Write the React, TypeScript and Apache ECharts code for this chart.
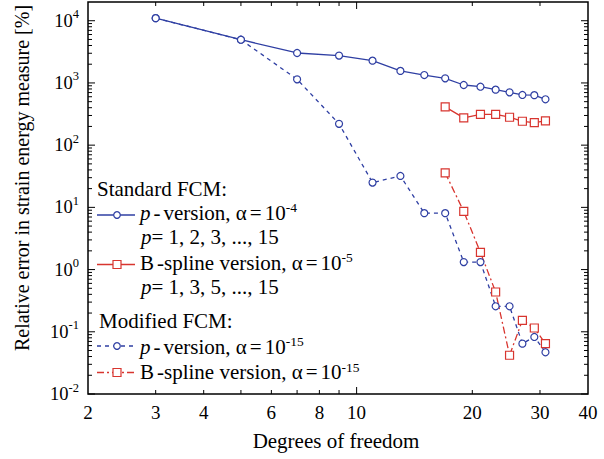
import React, { useEffect, useRef } from 'react';
import * as echarts from 'echarts';

// ---- data ----
const pDof = [3, 5, 7, 9, 11, 13, 15, 17, 19, 21, 23, 25, 27, 29, 31];
const bDof = [17, 19, 21, 23, 25, 27, 29, 31];
const stdP = [11000, 4950, 3030, 2750, 2280, 1560, 1340, 1185, 927, 870, 780, 706, 641, 636, 546];
const stdB = [412, 274, 313, 313, 281, 242, 231, 245];
const modP = [11000, 4950, 1143, 220, 25, 32, 8.07, 8.07, 1.32, 1.32, 0.257, 0.257, 0.0645, 0.0826, 0.0469];
const modB = [35.9, 8.6, 1.89, 0.436, 0.042, 0.153, 0.115, 0.0645];

const xTickLabels = [2, 3, 4, 6, 8, 10, 20, 30, 40];
const xMinorTicks = [3, 4, 5, 6, 7, 8, 9, 20, 30];
const xMajorTicks = [10];
const yDecades = [-2, -1, 0, 1, 2, 3, 4];
const yMinorMult = [2, 3, 4, 5, 6, 7, 8, 9];

const BLUE = '#2f3fa3';
const RED = '#d8352f';
const FONT = 'Liberation Serif, Times New Roman, DejaVu Serif, serif';

export default function App() {
  const ref = useRef<HTMLDivElement>(null);
  useEffect(() => {
    const chart = echarts.init(ref.current!, null, { renderer: 'svg' });
    const zip = (xs: number[], ys: number[]) => xs.map((x, i) => [x, ys[i]]);
    const left = 88, right = 16, top = 2, bottom = 65;
    const W = 604, H = 459;
    const gx0 = left, gx1 = W - right, gy0 = top, gy1 = H - bottom;

    chart.setOption({
      animation: false,
      textStyle: { fontFamily: FONT },
      grid: {
        left, right, top, bottom, show: true,
        borderColor: '#000', borderWidth: 1.5, backgroundColor: 'transparent',
      },
      xAxis: {
        type: 'log', min: 2, max: 40, logBase: 10,
        axisLine: { show: false }, axisTick: { show: false },
        axisLabel: { show: false }, splitLine: { show: false },
      },
      yAxis: {
        type: 'log', min: 0.01, max: 20000, logBase: 10,
        axisLine: { show: false }, axisTick: { show: false }, splitLine: { show: false },
        axisLabel: {
          margin: 9,
          showMinLabel: true,
          fontFamily: FONT,
          formatter: (v: number) => {
            const l = Math.log10(v);
            const e = Math.round(l);
            if (Math.abs(l - e) > 1e-6) return '';
            return `{b|10}{s|${e}}`;
          },
          rich: {
            b: { fontFamily: FONT, fontSize: 18.5, color: '#000', lineHeight: 26 },
            s: { fontFamily: FONT, fontSize: 12.5, color: '#000', lineHeight: 12, verticalAlign: 'top' },
          },
        },
      },
      series: [
        {
          name: 'std p', type: 'line', data: zip(pDof, stdP),
          symbol: 'circle', symbolSize: 7,
          itemStyle: { color: '#fff', borderColor: BLUE, borderWidth: 1.2 },
          lineStyle: { color: BLUE, width: 1.3 },
        },
        {
          name: 'std B', type: 'line', data: zip(bDof, stdB),
          symbol: 'rect', symbolSize: 8,
          itemStyle: { color: '#fff', borderColor: RED, borderWidth: 1.2 },
          lineStyle: { color: RED, width: 1.3 },
        },
        {
          name: 'mod p', type: 'line', data: zip(pDof, modP),
          symbol: 'circle', symbolSize: 7,
          itemStyle: { color: '#fff', borderColor: BLUE, borderWidth: 1.2 },
          lineStyle: { color: BLUE, width: 1.3, type: [4, 4] },
        },
        {
          name: 'mod B', type: 'line', data: zip(bDof, modB),
          symbol: 'rect', symbolSize: 8,
          itemStyle: { color: '#fff', borderColor: RED, borderWidth: 1.2 },
          lineStyle: { color: RED, width: 1.3, type: [7, 3, 2, 3] },
        },
      ],
    });

    const px = (v: number) => chart.convertToPixel({ xAxisIndex: 0 }, v) as number;
    const py = (v: number) => chart.convertToPixel({ yAxisIndex: 0 }, v) as number;

    const g: any[] = [];
    const tick = (x1: number, y1: number, x2: number, y2: number) =>
      g.push({ type: 'line', silent: true, shape: { x1, y1, x2, y2 }, style: { stroke: '#000', lineWidth: 1 } });

    // y ticks (left & right)
    yDecades.forEach((e) => {
      const y = py(Math.pow(10, e));
      tick(gx0, y, gx0 + 7, y);
      tick(gx1, y, gx1 - 7, y);
      if (e < 4) {
        yMinorMult.forEach((m) => {
          const yy = py(m * Math.pow(10, e));
          tick(gx0, yy, gx0 + 4, yy);
          tick(gx1, yy, gx1 - 4, yy);
        });
      }
    });
    // x ticks (bottom & top)
    xMinorTicks.forEach((v) => {
      const x = px(v);
      tick(x, gy1, x, gy1 - 4);
      tick(x, gy0, x, gy0 + 4);
    });
    xMajorTicks.forEach((v) => {
      const x = px(v);
      tick(x, gy1, x, gy1 - 7);
      tick(x, gy0, x, gy0 + 7);
    });
    // x tick labels
    xTickLabels.forEach((v) => {
      g.push({
        type: 'text', silent: true, x: px(v), y: 412,
        style: { text: String(v), fontFamily: FONT, fontSize: 19, fill: '#000', align: 'center', verticalAlign: 'middle' },
      });
    });
    // axis titles
    g.push({
      type: 'text', silent: true, x: 336, y: 441,
      style: { text: 'Degrees of freedom', fontFamily: FONT, fontSize: 21, fill: '#000', align: 'center', verticalAlign: 'middle' },
    });
    g.push({
      type: 'text', silent: true, x: 22, y: 178, rotation: Math.PI / 2,
      style: { text: 'Relative error in strain energy measure [%]', fontFamily: FONT, fontSize: 20, fill: '#000', align: 'center', verticalAlign: 'middle' },
    });

    // legend
    const base = { fontFamily: FONT, fontSize: 21, fill: '#000', lineHeight: 24 };
    const rich = {
      n: { ...base },
      i: { ...base, fontStyle: 'italic', padding: [0, 3, 0, 0] },
      ip: { ...base, fontStyle: 'italic' },
      h: { ...base, padding: [0, 3, 0, 0] },
      hb: { ...base, padding: [0, 0, 0, 3] },
      e: { ...base, padding: [0, 3, 0, 3] },
      s: { fontFamily: FONT, fontSize: 13.5, fill: '#000', lineHeight: 6, verticalAlign: 'top' },
    };
    const ltext = (x: number, y: number, text: string) =>
      g.push({
        type: 'text', silent: true, x, y,
        style: { text, rich, fontFamily: FONT, fontSize: 21, fill: '#000', align: 'left', verticalAlign: 'middle' },
      });
    const lline = (y: number, color: string, dash: number[] | null, shape: 'circle' | 'rect') => {
      g.push({
        type: 'line', silent: true, shape: { x1: 97, y1: y, x2: 135, y2: y },
        style: { stroke: color, lineWidth: 1.3, lineDash: dash || undefined },
      });
      if (shape === 'circle') {
        g.push({ type: 'circle', silent: true, shape: { cx: 117, cy: y, r: 3.3 }, style: { fill: '#fff', stroke: color, lineWidth: 1.2 } });
      } else {
        g.push({ type: 'rect', silent: true, shape: { x: 113, y: y - 4, width: 8, height: 8 }, style: { fill: '#fff', stroke: color, lineWidth: 1.2 } });
      }
    };
    ltext(97, 188.5, '{n|Standard FCM:}');
    lline(215, BLUE, null, 'circle');
    ltext(140, 212.5, '{i|p}{h|-}{n|version, α}{e|=}{n|10}{s|-4}');
    ltext(141, 237, '{ip|p}{n|= 1, 2, 3, ..., 15}');
    lline(264.5, RED, null, 'rect');
    ltext(140, 262.5, '{n|B}{hb|-}{n|spline version, α}{e|=}{n|10}{s|-5}');
    ltext(141, 286.5, '{ip|p}{n|= 1, 3, 5, ..., 15}');
    ltext(99, 320.5, '{n|Modified FCM:}');
    lline(346, BLUE, [4, 4], 'circle');
    ltext(140, 346.5, '{i|p}{h|-}{n|version, α}{e|=}{n|10}{s|-15}');
    lline(372.5, RED, [7, 3, 2, 3], 'rect');
    ltext(140, 372, '{n|B}{hb|-}{n|spline version, α}{e|=}{n|10}{s|-15}');

    chart.setOption({ graphic: g });

    return () => chart.dispose();
  }, []);
  return <div ref={ref} style={{ position: 'absolute', left: 0, top: 0, width: 604, height: 459 }} />;
}
